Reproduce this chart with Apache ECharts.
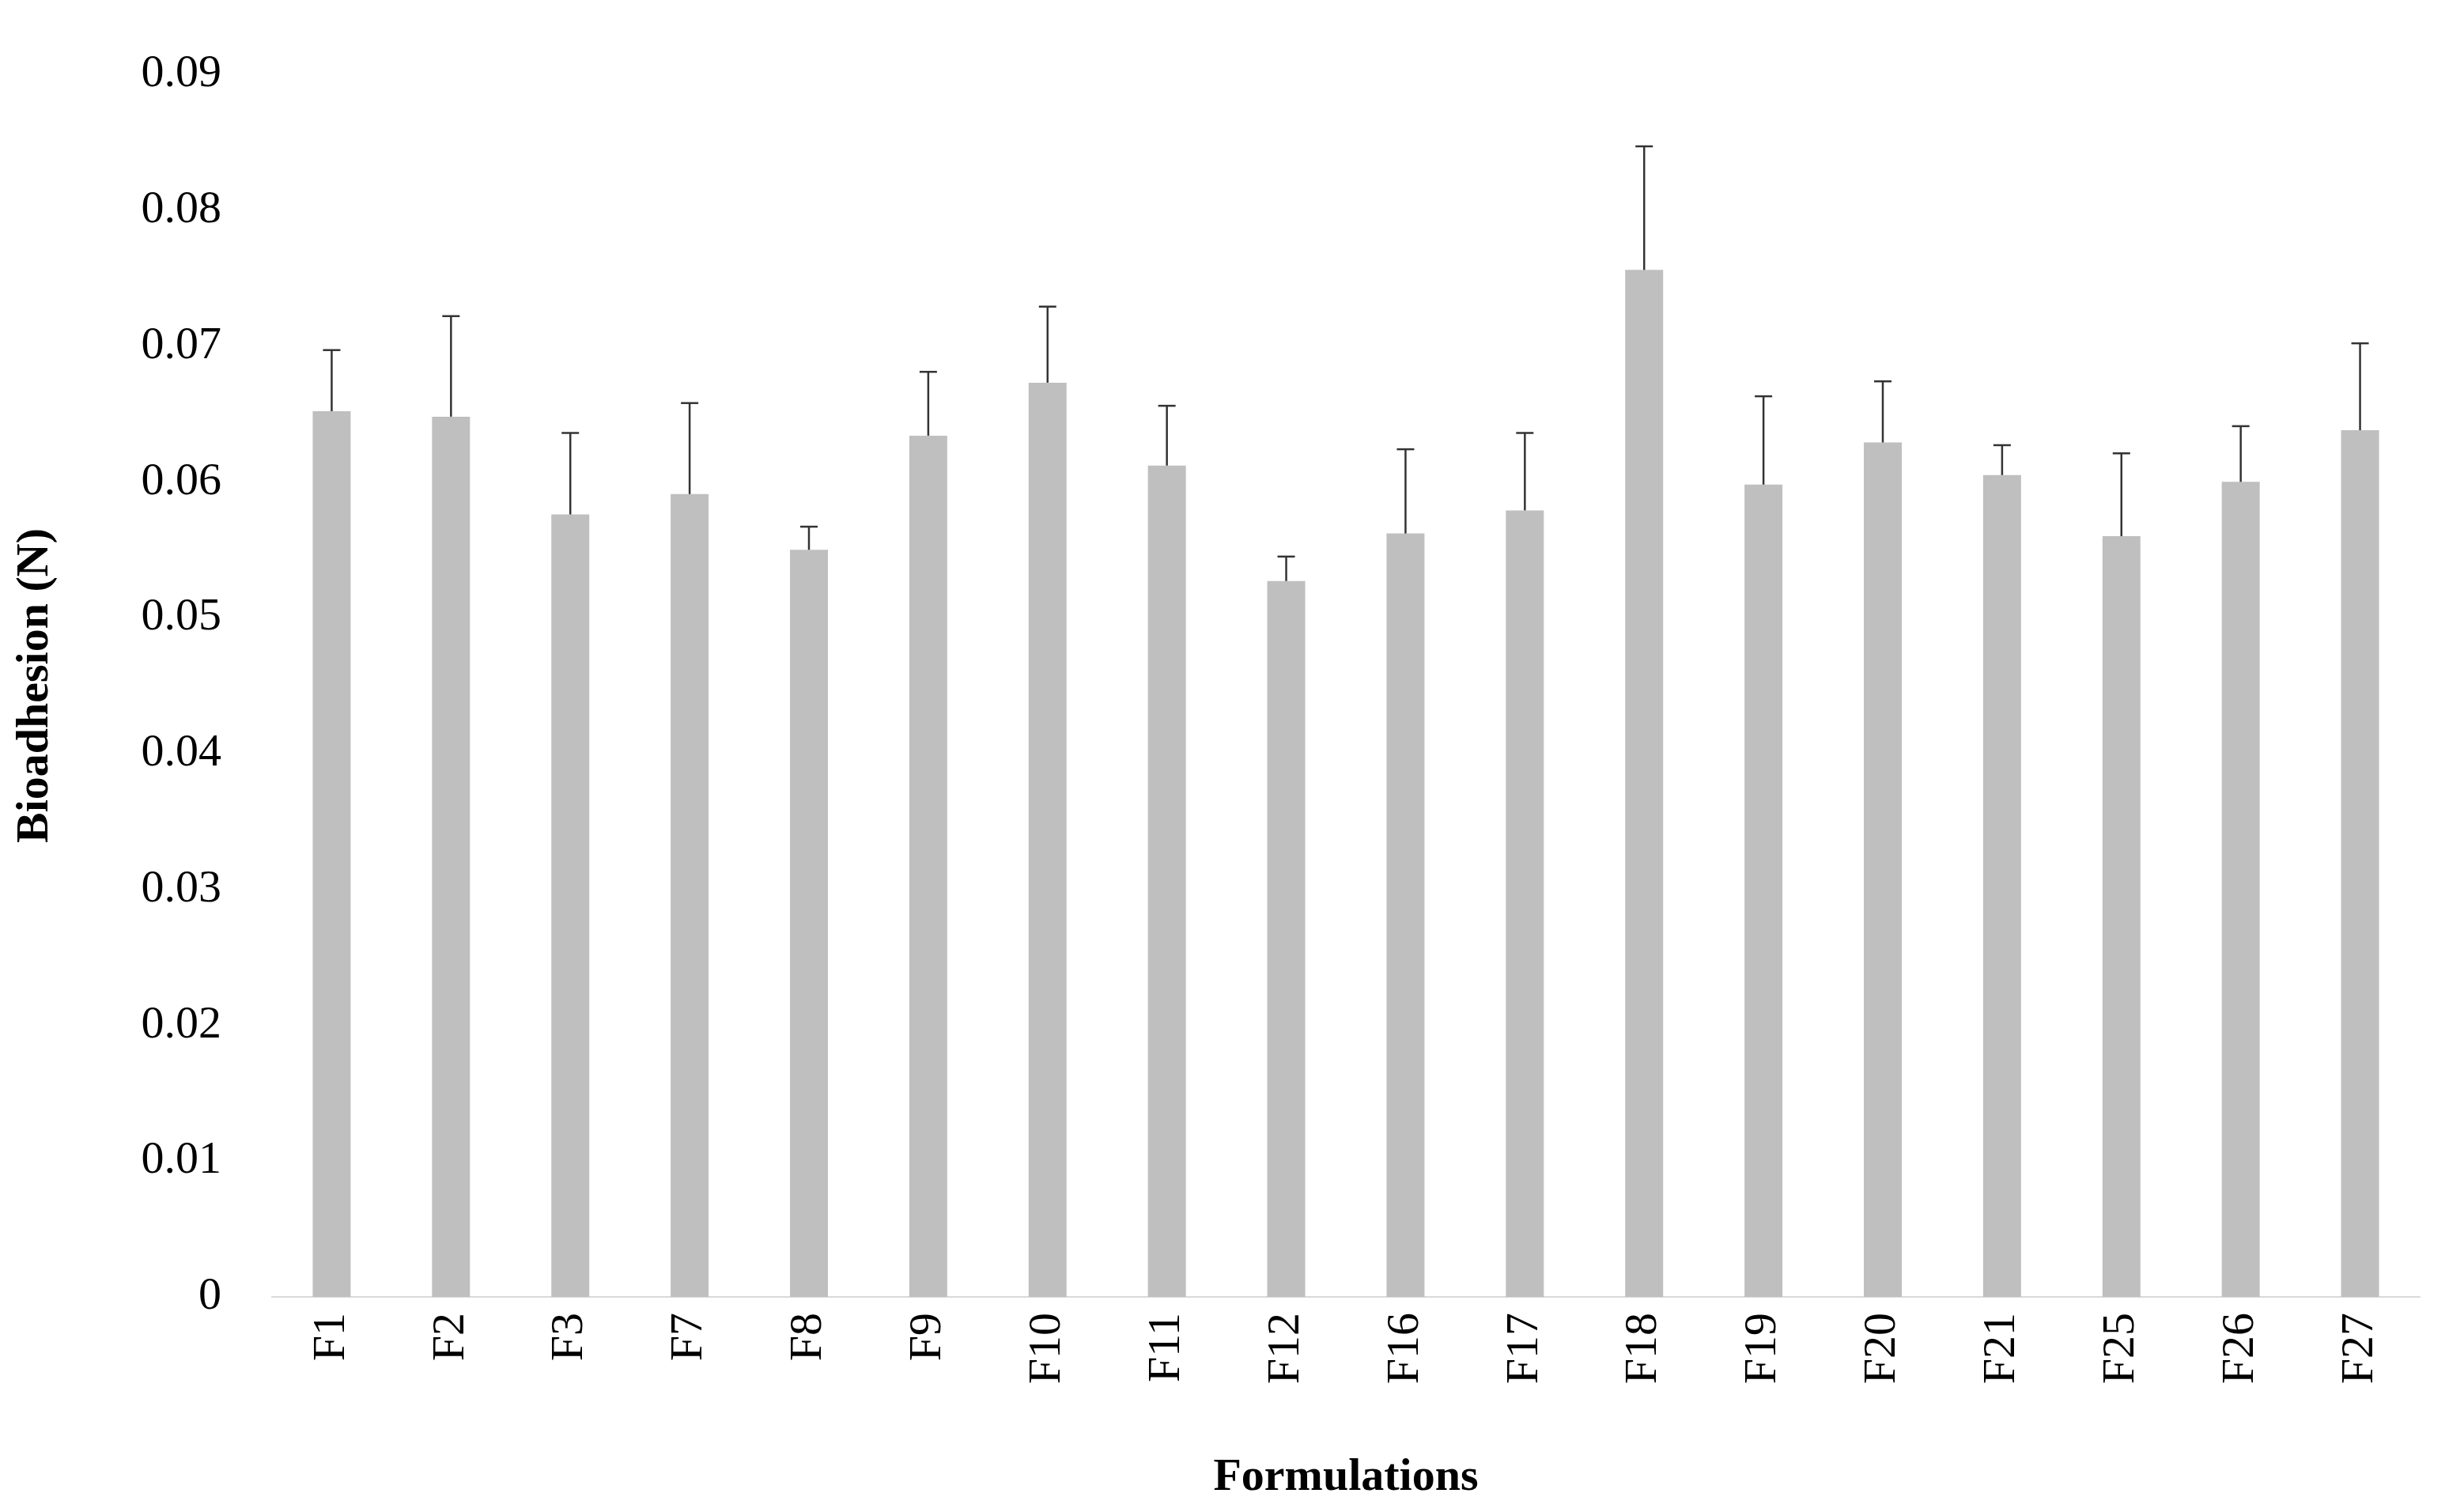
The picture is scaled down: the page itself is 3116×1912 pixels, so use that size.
<!DOCTYPE html>
<html><head><meta charset="utf-8">
<script src="https://cdn.jsdelivr.net/npm/echarts@6/dist/echarts.min.js"></script>
<style>html,body{margin:0;background:#fff}#c{width:3116px;height:1912px}</style>
</head><body><div id="c"></div>
<script>
const categories = ['F1','F2','F3','F7','F8','F9','F10','F11','F12','F16','F17','F18','F19','F20','F21','F25','F26','F27'];
const means = [0.0652,0.0648,0.0576,0.0591,0.0550,0.0634,0.0673,0.0612,0.0527,0.0562,0.0579,0.0756,0.0598,0.0629,0.0605,0.0560,0.0600,0.0638];
const upper = [0.0697,0.0722,0.0636,0.0658,0.0567,0.0681,0.0729,0.0656,0.0545,0.0624,0.0636,0.0847,0.0663,0.0674,0.0627,0.0621,0.0641,0.0702];

const font = 'Liberation Serif';
const chart = echarts.init(document.getElementById('c'));
chart.setOption({
  animation: false,
  grid: { left: 344, right: 56, top: 94, bottom: 272 },
  xAxis: {
    type: 'category', data: categories,
    name: 'Formulations', nameLocation: 'middle', nameGap: 200,
    nameTextStyle: { fontFamily: font, fontSize: 58, fontWeight: 'bold', color: '#000' },
    axisLine: { lineStyle: { color: '#d9d9d9', width: 2 } },
    axisTick: { show: false },
    axisLabel: { rotate: 90, fontFamily: font, fontSize: 58, color: '#000', margin: 20 }
  },
  yAxis: {
    type: 'value', min: 0, max: 0.09, interval: 0.01,
    name: 'Bioadhesion (N)', nameLocation: 'middle', nameGap: 270,
    nameTextStyle: { fontFamily: font, fontSize: 58, fontWeight: 'bold', color: '#000' },
    axisLine: { show: false }, axisTick: { show: false }, splitLine: { show: false },
    axisLabel: { fontFamily: font, fontSize: 58, color: '#000', margin: 64, formatter: v => v === 0 ? '0' : v.toFixed(2) }
  },
  series: [
    { type: 'bar', data: means, barWidth: 48, itemStyle: { color: '#bfbfbf' } },
    {
      type: 'custom', z: 10,
      data: categories.map((c, i) => [i, means[i], upper[i]]),
      renderItem: (params, api) => {
        const lo = api.coord([api.value(0), api.value(1)]);
        const hi = api.coord([api.value(0), api.value(2)]);
        const st = { stroke: '#333333', lineWidth: 2.5 };
        return { type: 'group', children: [
          { type: 'line', shape: { x1: lo[0], y1: lo[1], x2: hi[0], y2: hi[1] }, style: st },
          { type: 'line', shape: { x1: hi[0] - 11, y1: hi[1], x2: hi[0] + 11, y2: hi[1] }, style: st }
        ]};
      }
    }
  ]
});
</script></body></html>
